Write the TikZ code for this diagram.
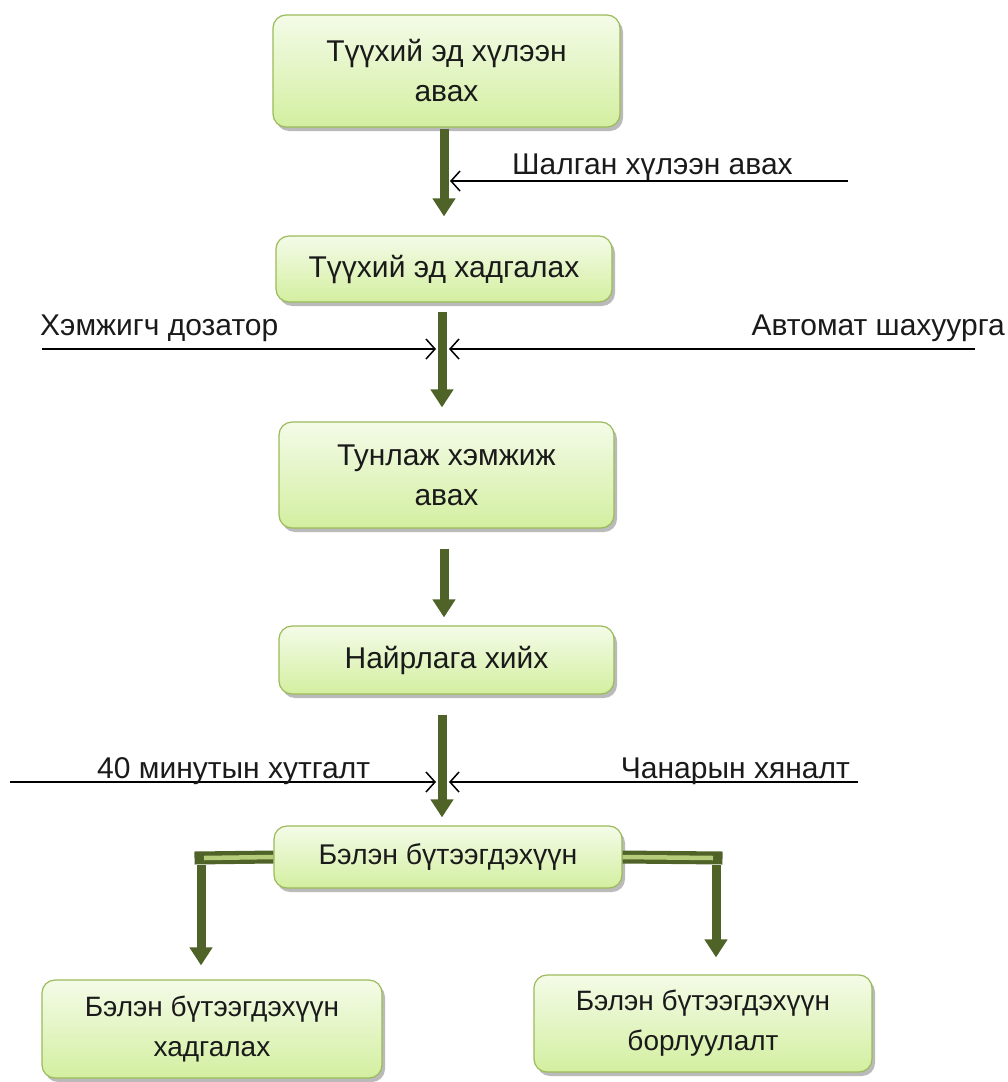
\documentclass[tikz,border=0pt]{standalone}
\usepackage{fontspec}
\setmainfont{Liberation Sans}
\usetikzlibrary{arrows.meta,shadows,calc}
\definecolor{dkgreen}{HTML}{4F6228}
\definecolor{ltgreen}{HTML}{B5CC7A}
\definecolor{boxborder}{HTML}{9BBB59}
\definecolor{boxtop}{HTML}{F4FBE8}
\definecolor{boxbot}{HTML}{D3EFA0}
\definecolor{txt}{HTML}{1A1A1A}
\tikzset{
  stepbox/.style={draw=boxborder, line width=1.2pt, rounded corners=13pt,
    top color=boxtop, bottom color=boxbot, align=center, text=txt,
    font=\fontsize{30}{40}\selectfont, inner sep=0pt,
    drop shadow={shadow xshift=3pt, shadow yshift=-4pt, fill=black!45, opacity=0.6}},
  smallbox/.style={stepbox, font=\fontsize{28}{40}\selectfont},
  flowarrow/.style={draw=dkgreen, line width=9pt, -{Triangle[width=22pt,length=18pt]}},
  sidearrow/.style={draw=black, line width=1.5pt, -{Straight Barb[length=9pt,width=20pt,line width=1.5pt]}},
  sidelabel/.style={font=\fontsize{30}{34}\selectfont, inner sep=0pt, text=txt},
}
\begin{document}
\begin{tikzpicture}[x=1pt,y=-1pt]
\useasboundingbox (0,0) rectangle (1008,1082);
% boxes
\node[stepbox, minimum width=347pt, minimum height=112pt] (n1) at (446.5,71) {Түүхий эд хүлээн\\авах};
\node[stepbox, minimum width=336pt, minimum height=66pt] (n2) at (444,269) {Түүхий эд хадгалах};
\node[stepbox, minimum width=335pt, minimum height=106pt] (n3) at (446.5,475) {Тунлаж хэмжиж\\авах};
\node[stepbox, minimum width=335pt, minimum height=68pt] (n4) at (446.5,660) {Найрлага хийх};
\node[stepbox, font=\fontsize{28.5}{40}\selectfont, minimum width=348pt, minimum height=62pt] (n5) at (448,857) {Бэлэн бүтээгдэхүүн};
\node[smallbox, minimum width=340pt, minimum height=98pt] (n6) at (212,1029) {Бэлэн бүтээгдэхүүн\\хадгалах};
\node[smallbox, minimum width=338pt, minimum height=97pt] (n7) at (703,1023.5) {Бэлэн бүтээгдэхүүн\\борлуулалт};
% main flow arrows
\draw[flowarrow, shorten <=1pt, shorten >=19pt] ([xshift=-2.5pt]n1.south) -- ([xshift=-2.5pt]n1.south |- n2.north);
\draw[flowarrow, shorten <=9pt, shorten >=14pt] ([xshift=-2pt]n2.south) -- ([xshift=-2pt]n2.south |- n3.north);
\draw[flowarrow, shorten <=20pt, shorten >=8pt] ([xshift=-2.5pt]n3.south) -- ([xshift=-2.5pt]n3.south |- n4.north);
\draw[flowarrow, shorten <=20pt, shorten >=8pt] ([xshift=-4.5pt]n4.south) -- ([xshift=-4.5pt]n4.south |- n5.north);
% junction points
\coordinate (j1) at (444,181);
\coordinate (j2) at (442,349);
\coordinate (j3) at (442,782);
% side inputs
\coordinate (s1) at (848,181);
\coordinate (s2l) at (42,349);
\coordinate (s2r) at (975,349);
\coordinate (s3l) at (10,782);
\coordinate (s3r) at (858,782);
\draw[sidearrow] (s1) -- ([xshift=6pt]j1);
\draw[sidearrow] (s2l) -- ([xshift=-6pt]j2);
\draw[sidearrow] (s2r) -- ([xshift=7pt]j2);
\draw[sidearrow] (s3l) -- ([xshift=-6pt]j3);
\draw[sidearrow] (s3r) -- ([xshift=7pt]j3);
% labels
\node[sidelabel, anchor=base west] (l1) at (512,174) {Шалган хүлээн авах};
\node[sidelabel, anchor=base west] (l2) at (40,335) {Хэмжигч дозатор};
\node[sidelabel, anchor=base east] (l3) at (1005,335) {Автомат шахуурга};
\node[sidelabel, anchor=base west] (l4) at (97,778) {40 минутын хутгалт};
\node[sidelabel, anchor=base east] (l5) at (850,778) {Чанарын хяналт};
% branch connectors
\coordinate (cl) at (201,858);
\coordinate (cr) at (716,858);
\draw[dkgreen, line width=13pt] (n5.west) -- ([xshift=-6.5pt]cl);
\draw[ltgreen, line width=4.5pt] (n5.west) -- ([xshift=3pt]cl);
\draw[flowarrow, shorten >=14pt] ([yshift=-6.5pt]cl) -- (cl |- n6.north);
\draw[dkgreen, line width=13pt] (n5.east) -- ([xshift=6.5pt]cr);
\draw[ltgreen, line width=4.5pt] (n5.east) -- ([xshift=-3pt]cr);
\draw[flowarrow, shorten >=17pt] ([yshift=-6.5pt]cr) -- (cr |- n7.north);
\end{tikzpicture}
\end{document}
